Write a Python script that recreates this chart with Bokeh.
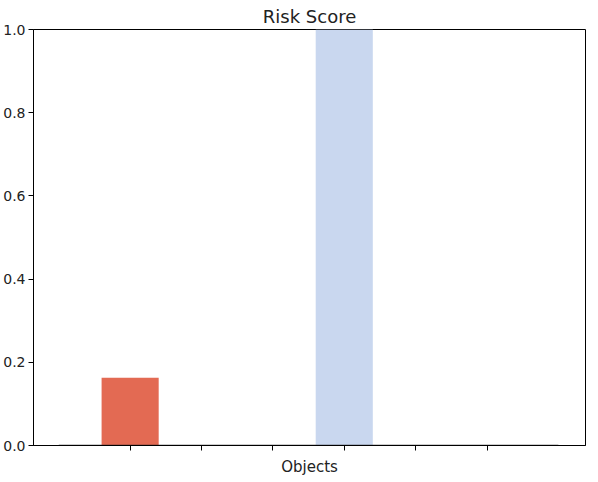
from bokeh.plotting import figure
from bokeh.models import FixedTicker, Range1d, ColumnDataSource
from bokeh.embed import file_html
from bokeh.resources import INLINE

# Data
positions = [0, 1, 2, 3, 4, 5]
risk_scores = [0.163, 0.0, 0.0, 1.0, 0.0, 0.0]
bar_colors = ["#e36a53", "#e36a53", "#e36a53", "#c9d7ef", "#c9d7ef", "#c9d7ef"]
y_ticks = [0.0, 0.2, 0.4, 0.6, 0.8, 1.0]
y_tick_labels = ["0.0", "0.2", "0.4", "0.6", "0.8", "1.0"]

src = ColumnDataSource(dict(x=positions, top=risk_scores, color=bar_colors))

p = figure(frame_width=552, frame_height=416, output_backend="svg", toolbar_location=None,
           x_range=Range1d(-1.354, 6.38), y_range=Range1d(0, 1),
           min_border_left=28, min_border_right=1, min_border_top=0, min_border_bottom=0,
           title="Risk Score")
p.title.align = "center"
p.title.text_font = "DejaVu Sans"
p.title.text_font_size = "18px"
p.title.text_font_style = "normal"
p.title.text_color = "#222222"
p.title.standoff = 6

p.vbar(x="x", top="top", width=0.8, bottom=0, color="color", line_color=None, source=src)
p.segment(x0=[positions[0] - 1], y0=[0], x1=[positions[-1] + 1], y1=[0],
          line_color="#333333", line_width=1.5)

p.xgrid.visible = False
p.ygrid.visible = False
p.outline_line_color = "black"
p.outline_line_width = 1

p.yaxis.ticker = FixedTicker(ticks=y_ticks)
p.yaxis.major_label_overrides = {t: l for t, l in zip(y_ticks, y_tick_labels)}
p.xaxis.ticker = FixedTicker(ticks=positions)
p.xaxis.major_label_overrides = {t: "" for t in positions}
p.xaxis.major_label_standoff = 0
p.xaxis.axis_label = "Objects"
p.xaxis.axis_label_standoff = 7

for ax in (p.xaxis[0], p.yaxis[0]):
    ax.axis_line_color = "black"
    ax.major_tick_line_color = "black"
    ax.major_tick_out = 5
    ax.major_tick_in = 0
    ax.minor_tick_line_color = None
    ax.major_label_text_font = "DejaVu Sans"
    ax.major_label_text_color = "#222222"
    ax.axis_label_text_font = "DejaVu Sans"
    ax.axis_label_text_font_style = "normal"
    ax.axis_label_text_font_size = "15px"
    ax.axis_label_text_color = "#222222"
p.yaxis.major_label_text_font_size = "14px"
p.yaxis.major_label_standoff = 3

open("out.html", "w").write(file_html(p, INLINE))
